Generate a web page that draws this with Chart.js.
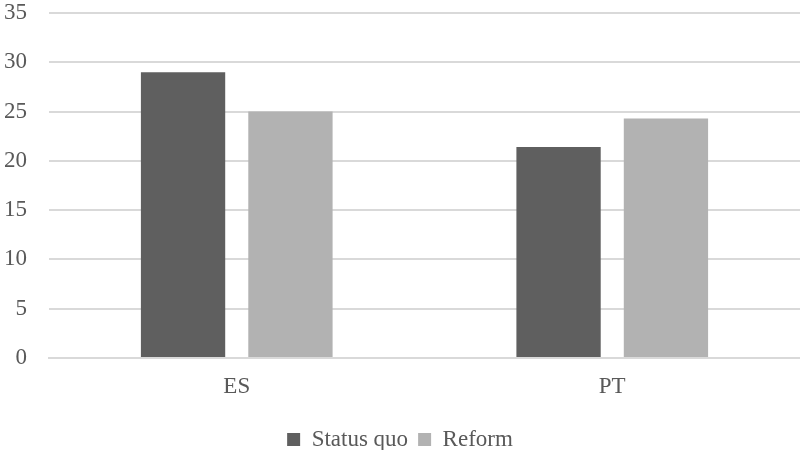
<!DOCTYPE html>
<html>
<head>
<meta charset="utf-8">
<script src="https://cdn.jsdelivr.net/npm/chart.js@4/dist/chart.umd.min.js"></script>
<style>
  html, body { margin: 0; padding: 0; background: #fff; }
  #wrap { width: 800px; height: 450px; }
</style>
</head>
<body>
<div id="wrap"><canvas id="chart" width="800" height="450"></canvas></div>
<script>
// Datos del gráfico
const categorias = ['ES', 'PT'];
const statusQuo = [29.0, 21.4];
const reforma = [25.0, 24.3];
const nombresSeries = ['Status quo', 'Reform'];

const fuente = '"Liberation Serif", "Times New Roman", serif';
const gris = '#595959';

function dibujarGrafico() {
  const ctx = document.getElementById('chart').getContext('2d');
  new Chart(ctx, {
    type: 'bar',
    data: {
      labels: categorias,
      datasets: [
        { label: nombresSeries[0], data: statusQuo, backgroundColor: '#5f5f5f' },
        { label: nombresSeries[1], data: reforma, backgroundColor: '#b2b2b2' }
      ]
    },
    options: {
      responsive: false,
      animation: false,
      categoryPercentage: 0.572,
      barPercentage: 0.785,
      layout: { padding: { top: 13, right: 0, left: 0, bottom: -11 } },
      plugins: {
        tooltip: { enabled: false },
        legend: {
          position: 'bottom',
          labels: {
            font: { family: fuente, size: 23 },
            color: gris,
            boxWidth: 13,
            boxHeight: 13,
            padding: 10
          }
        }
      },
      scales: {
        x: {
          grid: { display: false, drawTicks: false },
          border: { color: '#d9d9d9', width: 2 },
          ticks: { font: { family: fuente, size: 23 }, color: gris, padding: 15 },
          afterFit: s => { s.height = 60; }
        },
        y: {
          min: 0,
          max: 35,
          ticks: { stepSize: 5, font: { family: fuente, size: 23 }, color: gris, padding: 22 },
          grid: { color: '#d9d9d9', lineWidth: 2, drawTicks: false },
          border: { display: false },
          afterFit: s => { s.width = 49; s.paddingTop = 0; }
        }
      }
    }
  });
}

// Esperar la fuente antes de dibujar
document.fonts.load('23px "Liberation Serif"').then(dibujarGrafico, dibujarGrafico);
</script>
</body>
</html>
